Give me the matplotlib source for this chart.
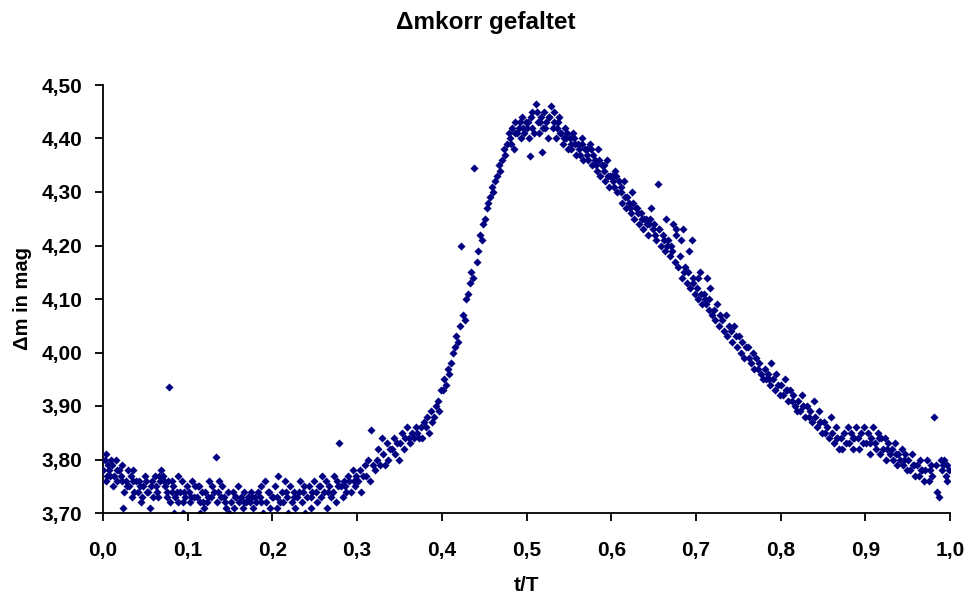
import matplotlib
matplotlib.use("Agg")
import matplotlib.pyplot as plt
from matplotlib.ticker import FuncFormatter

# ---- data ----
phase_min = [0.000, 0.002, 0.003, 0.004, 0.006, 0.007, 0.008,
             0.011, 0.012, 0.013, 0.015, 0.017, 0.019,
             0.021, 0.023, 0.024, 0.025, 0.027, 0.029,
             0.031, 0.033, 0.034, 0.035, 0.037, 0.039,
             0.041, 0.043, 0.045, 0.046, 0.047, 0.049,
             0.051, 0.053, 0.055, 0.057, 0.059,
             0.061, 0.063, 0.064, 0.065, 0.067, 0.069,
             0.071, 0.073, 0.075, 0.077, 0.078, 0.079,
             0.081, 0.083, 0.084, 0.085, 0.087, 0.089,
             0.091, 0.093, 0.094, 0.095, 0.097, 0.099,
             0.101, 0.103, 0.105, 0.107, 0.109,
             0.111, 0.113, 0.114, 0.115, 0.117, 0.119,
             0.121, 0.123, 0.125, 0.127, 0.129,
             0.131, 0.133, 0.135, 0.137, 0.139,
             0.141, 0.143, 0.145, 0.147, 0.149,
             0.151, 0.153, 0.155, 0.157, 0.159,
             0.161, 0.163, 0.165, 0.167, 0.169,
             0.171, 0.173, 0.175, 0.177, 0.179,
             0.181, 0.183, 0.185, 0.187, 0.189,
             0.191, 0.193, 0.195, 0.197, 0.199,
             0.201, 0.203, 0.205, 0.207, 0.209,
             0.211, 0.213, 0.215, 0.217, 0.219,
             0.221, 0.223, 0.225, 0.227, 0.229,
             0.231, 0.233, 0.235, 0.237, 0.239,
             0.241, 0.243, 0.245, 0.247, 0.249,
             0.251, 0.253, 0.255, 0.257, 0.259,
             0.261, 0.263, 0.265, 0.267, 0.269,
             0.271, 0.273, 0.275, 0.277, 0.279,
             0.281, 0.283, 0.285, 0.287, 0.289,
             0.291, 0.293, 0.295, 0.297, 0.299]
dmag_min = [3.78, 3.80, 3.81, 3.76, 3.79, 3.78, 3.77,
            3.79, 3.75, 3.77, 3.80, 3.76, 3.78,
            3.77, 3.79, 3.71, 3.74, 3.76, 3.78,
            3.75, 3.77, 3.73, 3.78, 3.74, 3.76,
            3.74, 3.76, 3.72, 3.73, 3.75, 3.77,
            3.76, 3.74, 3.71, 3.75, 3.73,
            3.77, 3.75, 3.74, 3.73, 3.76, 3.78,
            3.77, 3.75, 3.74, 3.76, 3.935, 3.72,
            3.76, 3.75, 3.70, 3.73, 3.74, 3.77,
            3.74, 3.76, 3.72, 3.70, 3.73, 3.75,
            3.74, 3.72, 3.76, 3.73, 3.75,
            3.73, 3.75, 3.70, 3.72, 3.74, 3.71,
            3.74, 3.72, 3.76, 3.73, 3.75,
            3.74, 3.805, 3.72, 3.76, 3.73,
            3.75, 3.73, 3.71, 3.74, 3.70,
            3.72, 3.74, 3.71, 3.73, 3.75,
            3.72, 3.73, 3.71, 3.74, 3.72,
            3.73, 3.72, 3.74, 3.71, 3.73,
            3.72, 3.74, 3.73, 3.75, 3.70,
            3.76, 3.72, 3.74, 3.71, 3.73,
            3.73, 3.75, 3.71, 3.77, 3.72,
            3.74, 3.72, 3.76, 3.73, 3.70,
            3.75, 3.72, 3.74, 3.71, 3.73,
            3.74, 3.76, 3.72, 3.75, 3.70,
            3.73, 3.75, 3.71, 3.74, 3.76,
            3.74, 3.72, 3.75, 3.73, 3.77,
            3.74, 3.76, 3.71, 3.75, 3.73,
            3.74, 3.77, 3.72, 3.75, 3.83,
            3.75, 3.73, 3.76, 3.74, 3.77,
            3.76, 3.74, 3.78, 3.75, 3.77]

phase_rise = [0.301, 0.303, 0.305, 0.307, 0.309,
              0.311, 0.313, 0.315, 0.317, 0.319,
              0.321, 0.323, 0.325, 0.327, 0.329,
              0.331, 0.333, 0.335, 0.337, 0.339,
              0.341, 0.343, 0.345, 0.347, 0.349,
              0.351, 0.353, 0.355, 0.357, 0.359,
              0.361, 0.363, 0.365, 0.367, 0.369,
              0.371, 0.373, 0.375, 0.377, 0.379,
              0.381, 0.383, 0.385, 0.387, 0.389,
              0.391, 0.393, 0.395, 0.397, 0.399,
              0.401, 0.403, 0.405, 0.407, 0.409,
              0.411, 0.413, 0.415, 0.417, 0.419,
              0.421, 0.423, 0.425, 0.427, 0.429,
              0.431, 0.433, 0.435, 0.437, 0.438,
              0.441, 0.443, 0.445, 0.447, 0.449,
              0.451, 0.453, 0.455, 0.457, 0.459,
              0.461, 0.463, 0.465, 0.467, 0.469,
              0.471, 0.473, 0.475, 0.477, 0.479,
              0.481, 0.483, 0.485, 0.487, 0.489,
              0.491, 0.493, 0.495, 0.497, 0.499,
              0.501, 0.503, 0.505, 0.507, 0.509,
              0.511, 0.513, 0.515, 0.517, 0.519,
              0.521, 0.523, 0.525, 0.527, 0.529,
              0.531, 0.533, 0.535, 0.537, 0.539]
dmag_rise = [3.76, 3.78, 3.74, 3.77, 3.79,
             3.77, 3.80, 3.76, 3.855, 3.79,
             3.78, 3.80, 3.82, 3.79, 3.84,
             3.81, 3.79, 3.83, 3.80, 3.82,
             3.82, 3.84, 3.81, 3.83, 3.80,
             3.83, 3.85, 3.82, 3.84, 3.86,
             3.84, 3.83, 3.85, 3.84, 3.86,
             3.85, 3.84, 3.86, 3.84, 3.87,
             3.86, 3.88, 3.85, 3.89, 3.87,
             3.88, 3.90, 3.91, 3.89, 3.93,
             3.93, 3.95, 3.94, 3.97, 3.96,
             3.98, 4.00, 4.01, 4.03, 4.02,
             4.05, 4.20, 4.07, 4.06, 4.10,
             4.11, 4.13, 4.15, 4.14, 4.345,
             4.17, 4.19, 4.22, 4.21, 4.24,
             4.25, 4.27, 4.28, 4.29, 4.31,
             4.30, 4.32, 4.33, 4.35, 4.34,
             4.36, 4.38, 4.37, 4.39, 4.41,
             4.40, 4.42, 4.38, 4.43, 4.41,
             4.42, 4.40, 4.44, 4.41, 4.43,
             4.42, 4.40, 4.44, 4.45, 4.41,
             4.465, 4.43, 4.41, 4.44, 4.42,
             4.45, 4.43, 4.40, 4.44, 4.46,
             4.42, 4.45, 4.40, 4.43, 4.41]

phase_fall = [0.541, 0.543, 0.545, 0.547, 0.549,
              0.551, 0.553, 0.555, 0.557, 0.559,
              0.561, 0.563, 0.565, 0.567, 0.569,
              0.571, 0.573, 0.575, 0.577, 0.579,
              0.581, 0.583, 0.585, 0.587, 0.589,
              0.591, 0.593, 0.595, 0.597, 0.599,
              0.601, 0.603, 0.605, 0.607, 0.609,
              0.611, 0.613, 0.615, 0.617, 0.619,
              0.621, 0.623, 0.625, 0.627, 0.629,
              0.631, 0.633, 0.635, 0.637, 0.639,
              0.641, 0.643, 0.645, 0.647, 0.649,
              0.651, 0.653, 0.655, 0.657, 0.659,
              0.661, 0.663, 0.665, 0.667, 0.669,
              0.671, 0.673, 0.675, 0.677, 0.679,
              0.681, 0.683, 0.685, 0.687, 0.689,
              0.691, 0.693, 0.695, 0.697, 0.699,
              0.701, 0.703, 0.705, 0.707, 0.709,
              0.711, 0.713, 0.715, 0.717, 0.719,
              0.721, 0.723, 0.725, 0.727, 0.729,
              0.731, 0.733, 0.735, 0.737, 0.739,
              0.741, 0.743, 0.745, 0.747, 0.749,
              0.751, 0.753, 0.755, 0.757, 0.759,
              0.761, 0.763, 0.765, 0.767, 0.769,
              0.771, 0.773, 0.775, 0.777, 0.779]
dmag_fall = [4.41, 4.39, 4.42, 4.40, 4.38,
             4.40, 4.38, 4.41, 4.39, 4.37,
             4.39, 4.37, 4.40, 4.36, 4.38,
             4.38, 4.36, 4.39, 4.35, 4.37,
             4.36, 4.34, 4.38, 4.33, 4.35,
             4.34, 4.32, 4.36, 4.31, 4.33,
             4.33, 4.31, 4.34, 4.30, 4.32,
             4.31, 4.28, 4.32, 4.27, 4.29,
             4.28, 4.26, 4.30, 4.25, 4.27,
             4.27, 4.24, 4.26, 4.23, 4.25,
             4.25, 4.22, 4.24, 4.27, 4.23,
             4.24, 4.21, 4.315, 4.23, 4.20,
             4.22, 4.19, 4.25, 4.21, 4.18,
             4.20, 4.24, 4.17, 4.22, 4.16,
             4.18, 4.14, 4.23, 4.16, 4.13,
             4.15, 4.12, 4.21, 4.14, 4.11,
             4.12, 4.10, 4.15, 4.09, 4.11,
             4.10, 4.14, 4.08, 4.12, 4.07,
             4.08, 4.06, 4.09, 4.05, 4.07,
             4.06, 4.04, 4.07, 4.03, 4.05,
             4.04, 4.02, 4.05, 4.03, 4.01,
             4.03, 4.00, 4.02, 3.99, 4.01,
             4.01, 3.99, 3.98, 4.00, 3.97,
             3.99, 3.97, 3.98, 3.96, 3.95]

phase_tail = [0.781, 0.783, 0.785, 0.787, 0.789,
              0.791, 0.793, 0.795, 0.797, 0.799,
              0.801, 0.803, 0.805, 0.807, 0.809,
              0.811, 0.813, 0.815, 0.817, 0.819,
              0.821, 0.823, 0.825, 0.827, 0.829,
              0.831, 0.833, 0.835, 0.837, 0.839,
              0.841, 0.843, 0.845, 0.847, 0.849,
              0.851, 0.853, 0.855, 0.857, 0.859,
              0.861, 0.863, 0.865, 0.867, 0.869,
              0.871, 0.873, 0.875, 0.877, 0.879,
              0.881, 0.883, 0.885, 0.887, 0.889,
              0.891, 0.893, 0.895, 0.897, 0.899,
              0.901, 0.903, 0.905, 0.907, 0.909,
              0.911, 0.913, 0.915, 0.917, 0.919,
              0.921, 0.923, 0.925, 0.927, 0.929,
              0.931, 0.933, 0.935, 0.937, 0.939,
              0.941, 0.943, 0.945, 0.947, 0.949,
              0.951, 0.953, 0.955, 0.957, 0.959,
              0.961, 0.963, 0.965, 0.967, 0.969,
              0.971, 0.973, 0.975, 0.977, 0.979,
              0.981, 0.983, 0.985, 0.987, 0.989,
              0.991, 0.993, 0.995, 0.997, 0.999]
dmag_tail = [3.97, 3.95, 3.96, 3.94, 3.98,
             3.95, 3.93, 3.96, 3.94, 3.92,
             3.94, 3.92, 3.95, 3.93, 3.91,
             3.93, 3.91, 3.92, 3.90, 3.89,
             3.91, 3.89, 3.92, 3.90, 3.88,
             3.90, 3.88, 3.89, 3.87, 3.91,
             3.88, 3.86, 3.89, 3.87, 3.85,
             3.87, 3.85, 3.86, 3.84, 3.88,
             3.85, 3.83, 3.86, 3.84, 3.82,
             3.84, 3.82, 3.85, 3.83, 3.86,
             3.83, 3.85, 3.82, 3.84, 3.86,
             3.84, 3.82, 3.85, 3.83, 3.86,
             3.83, 3.85, 3.81, 3.84, 3.86,
             3.83, 3.82, 3.85, 3.81, 3.84,
             3.82, 3.84, 3.80, 3.83, 3.81,
             3.82, 3.80, 3.83, 3.79, 3.81,
             3.80, 3.82, 3.79, 3.81, 3.78,
             3.80, 3.78, 3.81, 3.79, 3.77,
             3.79, 3.77, 3.80, 3.78, 3.76,
             3.78, 3.80, 3.76, 3.79, 3.77,
             3.88, 3.79, 3.74, 3.73, 3.80,
             3.78, 3.80, 3.77, 3.79, 3.78]

# second pass of readings (denser parts of the cloud)
phase_more = [0.005, 0.009, 0.016, 0.022, 0.028, 0.036, 0.044, 0.052, 0.058,
              0.066, 0.072, 0.076, 0.082, 0.088, 0.096, 0.104, 0.112, 0.118,
              0.124, 0.136, 0.144, 0.156, 0.166, 0.176, 0.186, 0.196, 0.206,
              0.216, 0.226, 0.236, 0.246, 0.256, 0.266, 0.276, 0.286, 0.296,
              0.482, 0.486, 0.492, 0.496, 0.502, 0.504, 0.506, 0.512, 0.516,
              0.518, 0.522, 0.526, 0.532, 0.536, 0.538, 0.544, 0.548, 0.552,
              0.556, 0.562, 0.566, 0.572, 0.576, 0.582, 0.586, 0.592, 0.596,
              0.602, 0.606, 0.612, 0.616, 0.622, 0.626, 0.632, 0.636, 0.642,
              0.646, 0.652, 0.656, 0.662, 0.666, 0.672, 0.676, 0.682, 0.686,
              0.692, 0.696, 0.702, 0.706, 0.712, 0.716,
              0.786, 0.806, 0.826, 0.846, 0.866, 0.886, 0.906, 0.916, 0.926,
              0.936, 0.946, 0.956, 0.966, 0.976, 0.992, 0.996]
dmag_more = [3.77, 3.80, 3.78, 3.76, 3.75, 3.76, 3.75, 3.74, 3.76,
             3.77, 3.76, 3.73, 3.74, 3.72, 3.74, 3.73, 3.75, 3.72,
             3.73, 3.74, 3.72, 3.73, 3.72, 3.73, 3.72, 3.74, 3.73,
             3.74, 3.73, 3.74, 3.73, 3.75, 3.74, 3.76, 3.75, 3.76,
             4.39, 4.41, 4.43, 4.42, 4.43, 4.367, 4.42, 4.45, 4.43,
             4.375, 4.42, 4.44, 4.43, 4.42, 4.44, 4.40, 4.41, 4.39,
             4.40, 4.38, 4.39, 4.37, 4.38, 4.35, 4.36, 4.35, 4.33,
             4.32, 4.33, 4.30, 4.29, 4.27, 4.28, 4.26, 4.25, 4.24,
             4.25, 4.22, 4.23, 4.21, 4.20, 4.19, 4.23, 4.21, 4.15,
             4.19, 4.13, 4.14, 4.11, 4.09, 4.10,
             3.95, 3.93, 3.90, 3.87, 3.84, 3.84, 3.83, 3.84, 3.82,
             3.81, 3.80, 3.79, 3.78, 3.78, 3.79, 3.76]

x_ticks = [0.0, 0.1, 0.2, 0.3, 0.4, 0.5, 0.6, 0.7, 0.8, 0.9, 1.0]
y_ticks = [3.70, 3.80, 3.90, 4.00, 4.10, 4.20, 4.30, 4.40, 4.50]

title = "\u0394mkorr gefaltet"
xlabel = "t/T"
ylabel = "\u0394m in mag"

# ---- figure ----
plt.rcParams['font.family'] = ['Liberation Sans', 'DejaVu Sans']
fig = plt.figure(figsize=(9.71, 5.99), dpi=100)
ax = fig.add_axes([103/971, 1 - 513/599, (950 - 103)/971, (513 - 85)/599])

phase = phase_min + phase_rise + phase_fall + phase_tail + phase_more
dmag = dmag_min + dmag_rise + dmag_fall + dmag_tail + dmag_more
ax.scatter(phase, dmag, marker='D', s=17, color='#000080', linewidths=0, zorder=3)

ax.set_xlim(0.0, 1.0)
ax.set_ylim(3.70, 4.50)
ax.set_xticks(x_ticks)
ax.set_yticks(y_ticks)
ax.xaxis.set_major_formatter(FuncFormatter(lambda v, p: f"{v:.1f}".replace('.', ',')))
ax.yaxis.set_major_formatter(FuncFormatter(lambda v, p: f"{v:.2f}".replace('.', ',')))

for s in ['top', 'right']:
    ax.spines[s].set_visible(False)
for s in ['left', 'bottom']:
    ax.spines[s].set_linewidth(1.3)
    ax.spines[s].set_color('black')
ax.spines['bottom'].set_zorder(5)

ax.tick_params(axis='both', direction='out', length=6, width=1.3, color='black',
               labelsize=15)
ax.tick_params(axis='y', pad=9)
ax.tick_params(axis='x', pad=14)
for lab in ax.get_xticklabels() + ax.get_yticklabels():
    lab.set_fontweight('bold')

ax.set_xlabel(xlabel, fontsize=15, fontweight='bold', labelpad=12)
ax.set_ylabel(ylabel, fontsize=14.5, fontweight='bold', labelpad=7)
fig.text(0.5, 0.963, title, ha='center', va='center', fontsize=17.5, fontweight='bold')

fig.savefig("out.png", dpi=100)
